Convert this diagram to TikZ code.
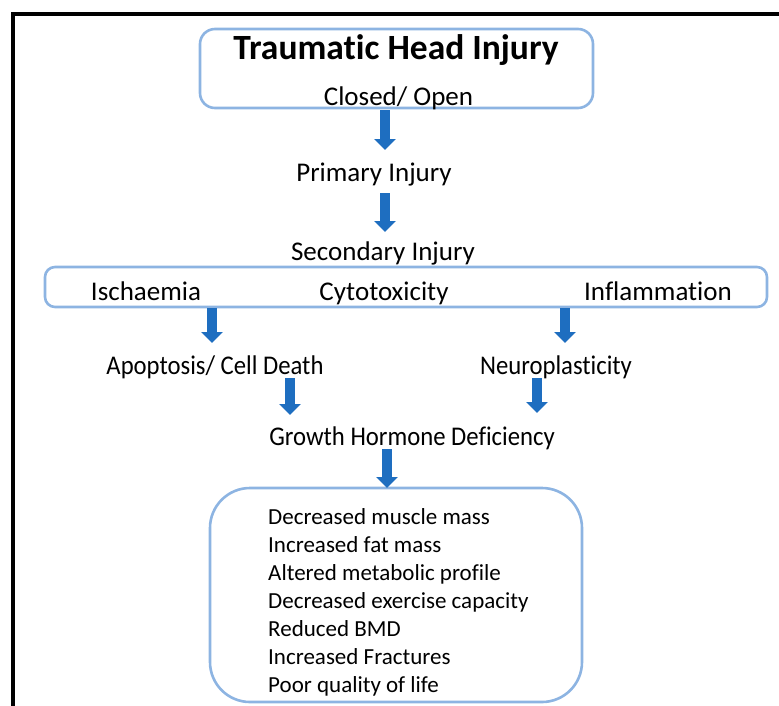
\documentclass[tikz,border=0pt]{standalone}
\usepackage{fontspec}
\setmainfont{Carlito}[Ligatures=NoCommon]
\usetikzlibrary{arrows.meta}
\definecolor{boxblue}{RGB}{141,180,226}
\definecolor{arrblue}{RGB}{30,110,192}
\tikzset{
  rbox/.style={draw=boxblue, line width=2.6pt, fill=white},
  lbl/.style={inner sep=0pt, anchor=base, font=\fontsize{27}{32}\selectfont},
  barrow/.style={draw=arrblue, line width=10pt, -{Triangle[width=21pt,length=11pt]}},
}
\newcommand{\narrow}[1]{\scalebox{0.915}[1]{#1}}
\begin{document}
\begin{tikzpicture}[x=1pt,y=-1pt]
\useasboundingbox (0,0) rectangle (779,705);
\draw[line width=4pt] (13,720) -- (13,14) -- (795,14);
% boxes
\draw[rbox, rounded corners=15pt] (200,29) rectangle (593,108);
\node[inner sep=0pt] (top) at (396.5,68.5) {};
\draw[rbox, rounded corners=10pt] (45,267) rectangle (767,307);
\node[inner sep=0pt] (mid) at (406,287) {};
\draw[rbox, rounded corners=40pt] (210,488) rectangle (582,702);
% texts
\node[inner sep=0pt, font=\fontsize{35.5}{40}\selectfont\bfseries] (title) at (396,50) {Traumatic Head Injury};
\node[lbl] (closed) at (398.5,105) {Closed/ Open};
\node[lbl] (primary) at (374,181) {Primary Injury};
\node[lbl] (secondary) at (383,260) {Secondary Injury};
\node[lbl] (isch) at (146,300) {Ischaemia};
\node[lbl] (cyto) at (384,300) {Cytotoxicity};
\node[lbl] (infl) at (658,300) {Inflammation};
\node[lbl] (apop) at (215,374) {\narrow{Apoptosis/ Cell Death}};
\node[lbl] (neuro) at (556,374) {\narrow{Neuroplasticity}};
\node[lbl] (ghd) at (412,445) {\narrow{Growth Hormone Deficiency}};
\node[inner sep=0pt, anchor=base west, align=left, font=\fontsize{23}{27.9}\selectfont] (list) at (268,692) {Decreased muscle mass\\Increased fat mass\\Altered metabolic profile\\Decreased exercise capacity\\Reduced BMD\\Increased Fractures\\Poor quality of life};
% arrow end points
\coordinate (a1s) at (385,110); \coordinate (a1e) at (385,150);
\coordinate (a2s) at (385,193); \coordinate (a2e) at (385,232);
\coordinate (a3s) at (212,308); \coordinate (a3e) at (212,343);
\coordinate (a4s) at (565,308); \coordinate (a4e) at (565,343);
\coordinate (a5s) at (290,378); \coordinate (a5e) at (290,415);
\coordinate (a6s) at (537,378); \coordinate (a6e) at (537,413);
\coordinate (a7s) at (387,449); \coordinate (a7e) at (387,488);
\foreach \i in {1,...,7} {\draw[barrow] (a\i s) -- (a\i e);}
\end{tikzpicture}
\end{document}
